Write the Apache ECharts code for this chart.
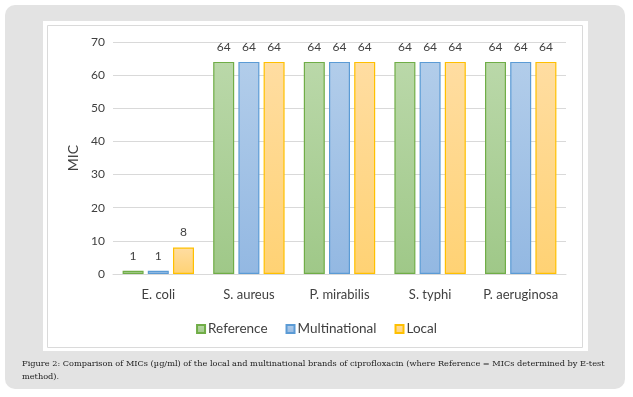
<!DOCTYPE html>
<html>
<head>
<meta charset="utf-8">
<script src="https://cdn.jsdelivr.net/npm/echarts@6/dist/echarts.min.js"></script>
<style>
html,body{margin:0;padding:0;background:#fff;}
#chart{width:633px;height:397px;}
</style>
</head>
<body>
<div id="chart"></div>
<script>
const categories = ['E. coli', 'S. aureus', 'P. mirabilis', 'S. typhi', 'P. aeruginosa'];
const referenceValues = [1, 64, 64, 64, 64];
const multinationalValues = [1, 64, 64, 64, 64];
const localValues = [8, 64, 64, 64, 64];
const yTicks = { min: 0, max: 70, interval: 10 };
const captionText = 'Figure 2: Comparison of MICs (\u00b5g/ml) of the local and multinational brands of ciprofloxacin (where Reference = MICs determined by E-test\nmethod).';

const font = 'Lato, "Open Sans", sans-serif';
function grad(top, bottom) {
  return new echarts.graphic.LinearGradient(0, 0, 0, 1, [
    { offset: 0, color: top }, { offset: 1, color: bottom }
  ]);
}
function makeSeries(name, data, top, bottom, border) {
  return {
    name: name, type: 'bar', data: data, barWidth: 21, barGap: '20%',
    itemStyle: { color: grad(top, bottom), borderColor: border, borderWidth: 1.2 },
    label: { show: true, position: 'top', distance: 9, color: '#404040', fontSize: 12, fontFamily: font }
  };
}
const chart = echarts.init(document.getElementById('chart'));
chart.setOption({
  animation: false,
  backgroundColor: '#fff',
  graphic: [
    { type: 'rect', z: -10, shape: { x: 5, y: 5, width: 620, height: 384, r: 10 }, style: { fill: '#e3e3e3' } },
    { type: 'rect', z: -9, shape: { x: 43, y: 21, width: 545, height: 330 }, style: { fill: '#ffffff' } },
    { type: 'rect', z: -8, shape: { x: 47.5, y: 25.5, width: 535, height: 322 }, style: { fill: '#ffffff', stroke: '#dadada', lineWidth: 1 } },
    { type: 'text', left: 22, top: 357, style: { text: captionText, font: '8.2px "DejaVu Serif", serif', fill: '#222', lineHeight: 13 } }
  ],
  legend: {
    data: ['Reference', 'Multinational', 'Local'],
    left: 'center', top: 317, itemWidth: 8, itemHeight: 8, itemGap: 18,
    icon: 'rect',
    textStyle: { fontSize: 13.5, color: '#404040', fontFamily: font, padding: [0, 0, 0, -2] }
  },
  grid: { left: 113, right: 67, top: 42, bottom: 123 },
  xAxis: {
    type: 'category', data: categories,
    axisLine: { lineStyle: { color: '#d9d9d9', width: 1 } },
    axisTick: { show: false },
    axisLabel: { interval: 0, color: '#404040', fontSize: 13, fontFamily: font, margin: 14 }
  },
  yAxis: {
    type: 'value', min: yTicks.min, max: yTicks.max, interval: yTicks.interval,
    name: 'MIC', nameLocation: 'middle', nameGap: 26, nameRotate: 90,
    nameTextStyle: { fontSize: 14, color: '#404040', fontFamily: font },
    axisLine: { show: false }, axisTick: { show: false },
    axisLabel: { color: '#404040', fontSize: 12, fontFamily: font, margin: 8 },
    splitLine: { lineStyle: { color: '#d9d9d9', width: 1 } }
  },
  series: [
    makeSeries('Reference', referenceValues, '#bad8a9', '#9fc888', '#70ad47'),
    makeSeries('Multinational', multinationalValues, '#b2cdea', '#93b8e2', '#5b9bd5'),
    makeSeries('Local', localValues, '#ffdda2', '#ffd274', '#ffc000')
  ]
});
</script>
</body>
</html>
